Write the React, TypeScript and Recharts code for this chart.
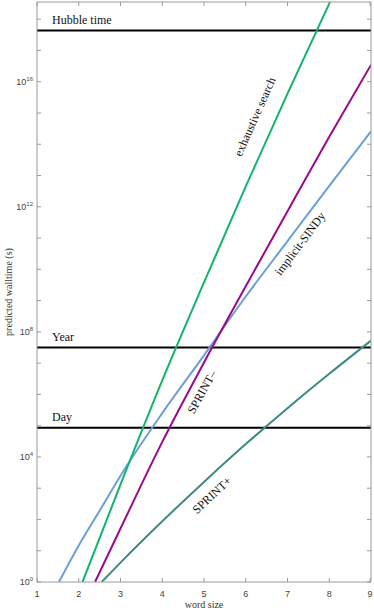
import React from 'react';
import { LineChart, Line, XAxis, YAxis, ReferenceLine, ReferenceDot } from 'recharts';

// x ticks (word size) and y tick exponents (decades)
const wordSizes = [1, 2, 3, 4, 5, 6, 7, 8, 9];
const yTickExponents = [0, 1, 2, 3, 4, 5, 6, 7, 8, 9, 10, 11, 12, 13, 14, 15, 16, 17, 18];
const labelledExponents = [0, 4, 8, 12, 16];

// as log10(seconds)
const exhaustiveX = [2.09, 3, 4, 5, 6, 7, 8, 9];
const exhaustiveLog = [0, 3.12, 6.45, 9.58, 12.65, 15.62, 18.5, 21.3];

const sprintMinusX = [2.39, 3, 4, 5, 6, 7, 8, 9];
const sprintMinusLog = [0, 1.71, 4.48, 7.02, 9.46, 11.86, 14.24, 16.54];

const sindyX = [1.525, 2, 2.5, 3, 4, 5, 6, 7, 8, 9];
const sindyLog = [0, 1.17, 2.28, 3.4, 5.4, 7.25, 9.13, 10.9, 12.67, 14.41];

const sprintPlusX = [2.55, 3, 4, 5, 6, 7, 8, 9];
const sprintPlusLog = [0, 0.62, 1.94, 3.2, 4.41, 5.56, 6.66, 7.72];

// reference times in seconds
const hubbleTime = 4.35e17;
const year = 3.156e7;
const day = 86400;

// line annotations: text, word size, log10 time, rotation
const notes = [
  { text: 'exhaustive search', x: 6.22, log: 14.88, angle: -66 },
  { text: 'implicit-SINDy', x: 7.3, log: 10.82, angle: -53 },
  { text: 'SPRINT\u2013', x: 4.95, log: 6.08, angle: -61 },
  { text: 'SPRINT+', x: 5.19, log: 2.78, angle: -43 },
];

const toData = (xs: number[], logs: number[]) =>
  xs.map((x, i) => ({ x, t: Math.pow(10, logs[i]) }));

const exhaustiveData = toData(exhaustiveX, exhaustiveLog);
const sprintMinusData = toData(sprintMinusX, sprintMinusLog);
const sindyData = toData(sindyX, sindyLog);
const sprintPlusData = toData(sprintPlusX, sprintPlusLog);

const AXIS = '#9a9a9a';
const SERIF = '"Liberation Serif", "DejaVu Serif", serif';
const SANS = '"Liberation Sans", Arial, sans-serif';

function LeftTick(props: any) {
  const { x, y, payload } = props;
  const e = Math.round(Math.log10(payload.value));
  return (
    <g>
      <line x1={x} x2={x + 4} y1={y} y2={y} stroke={AXIS} />
      {labelledExponents.includes(e) && (
        <text x={x - 4} y={y + 3} textAnchor="end" fontFamily={SANS} fontSize={9} fill="#444">
          10<tspan fontSize={6} dy={-4}>{e}</tspan>
        </text>
      )}
    </g>
  );
}

function RightTick(props: any) {
  const { x, y } = props;
  return <line x1={x} x2={x - 4} y1={y} y2={y} stroke={AXIS} />;
}

function BottomTick(props: any) {
  const { x, y, payload } = props;
  return (
    <g>
      <line x1={x} x2={x} y1={y} y2={y - 4} stroke={AXIS} />
      <text x={x} y={y + 15} textAnchor="middle" fontFamily={SANS} fontSize={9} fill="#444">
        {payload.value}
      </text>
    </g>
  );
}

function TopTick(props: any) {
  const { x, y } = props;
  return <line x1={x} x2={x} y1={y} y2={y + 4} stroke={AXIS} />;
}

const refLabel = (text: string) => (props: any) => {
  const { viewBox } = props;
  return (
    <text x={viewBox.x + 15} y={viewBox.y - 7} fontFamily={SERIF} fontSize={12} fill="#111">
      {text}
    </text>
  );
};

export default function App() {
  return (
    <div style={{ position: 'absolute', left: 0, top: 0, width: 374, height: 611, background: '#fff' }}>
      <LineChart width={374} height={611} margin={{ top: 0, right: 0, bottom: 0, left: 0 }}>
        <XAxis
          xAxisId="b"
          dataKey="x"
          type="number"
          domain={[1, 9]}
          ticks={wordSizes}
          allowDataOverflow
          height={29}
          axisLine={{ stroke: AXIS }}
          tickLine={false}
          tickSize={0}
          tickMargin={0}
          tick={<BottomTick />}
        />
        <XAxis
          xAxisId="t"
          orientation="top"
          dataKey="x"
          type="number"
          domain={[1, 9]}
          ticks={wordSizes}
          allowDataOverflow
          height={2}
          axisLine={{ stroke: AXIS }}
          tickLine={false}
          tickSize={0}
          tickMargin={0}
          tick={<TopTick />}
        />
        <YAxis
          yAxisId="l"
          scale="log"
          type="number"
          domain={[1, Math.pow(10, 18.55)]}
          ticks={yTickExponents.map((e) => Math.pow(10, e))}
          allowDataOverflow
          width={37}
          axisLine={{ stroke: AXIS }}
          tickLine={false}
          tickSize={0}
          tickMargin={0}
          tick={<LeftTick />}
        />
        <YAxis
          yAxisId="r"
          orientation="right"
          scale="log"
          type="number"
          domain={[1, Math.pow(10, 18.55)]}
          ticks={yTickExponents.map((e) => Math.pow(10, e))}
          allowDataOverflow
          width={3}
          axisLine={{ stroke: AXIS }}
          tickLine={false}
          tickSize={0}
          tickMargin={0}
          tick={<RightTick />}
        />

        <ReferenceLine xAxisId="b" yAxisId="l" y={hubbleTime} stroke="#000" strokeWidth={2} label={refLabel('Hubble time')} />
        <ReferenceLine xAxisId="b" yAxisId="l" y={year} stroke="#000" strokeWidth={2} label={refLabel('Year')} />
        <ReferenceLine xAxisId="b" yAxisId="l" y={day} stroke="#000" strokeWidth={2} label={refLabel('Day')} />

        <Line xAxisId="b" yAxisId="l" data={sindyData} dataKey="t" type="monotone" stroke="#6b9fd8" strokeWidth={2} dot={false} isAnimationActive={false} />
        <Line xAxisId="b" yAxisId="l" data={exhaustiveData} dataKey="t" type="monotone" stroke="#10b46e" strokeWidth={2} dot={false} isAnimationActive={false} />
        <Line xAxisId="b" yAxisId="l" data={sprintMinusData} dataKey="t" type="monotone" stroke="#9a0a8a" strokeWidth={2} dot={false} isAnimationActive={false} />
        <Line xAxisId="b" yAxisId="l" data={sprintPlusData} dataKey="t" type="monotone" stroke="#3d8984" strokeWidth={2} dot={false} isAnimationActive={false} />

        {notes.map((n) => (
          <ReferenceDot
            key={n.text}
            xAxisId="b"
            yAxisId="l"
            x={n.x}
            y={Math.pow(10, n.log)}
            r={0}
            shape={(p: any) => (
              <text
                x={p.cx}
                y={p.cy}
                transform={`rotate(${n.angle} ${p.cx} ${p.cy})`}
                textAnchor="middle"
                dominantBaseline="central"
                fontFamily={SERIF}
                fontSize={12}
                fill="#111"
              >
                {n.text}
              </text>
            )}
          />
        ))}

        <text x={204} y={608} textAnchor="middle" fontFamily={SERIF} fontSize={10} fill="#333">
          word size
        </text>
        <text
          x={8}
          y={292}
          transform="rotate(-90 8 292)"
          textAnchor="middle"
          dominantBaseline="central"
          fontFamily={SERIF}
          fontSize={10}
          fill="#333"
        >
          predicted walltime (s)
        </text>
      </LineChart>
    </div>
  );
}
